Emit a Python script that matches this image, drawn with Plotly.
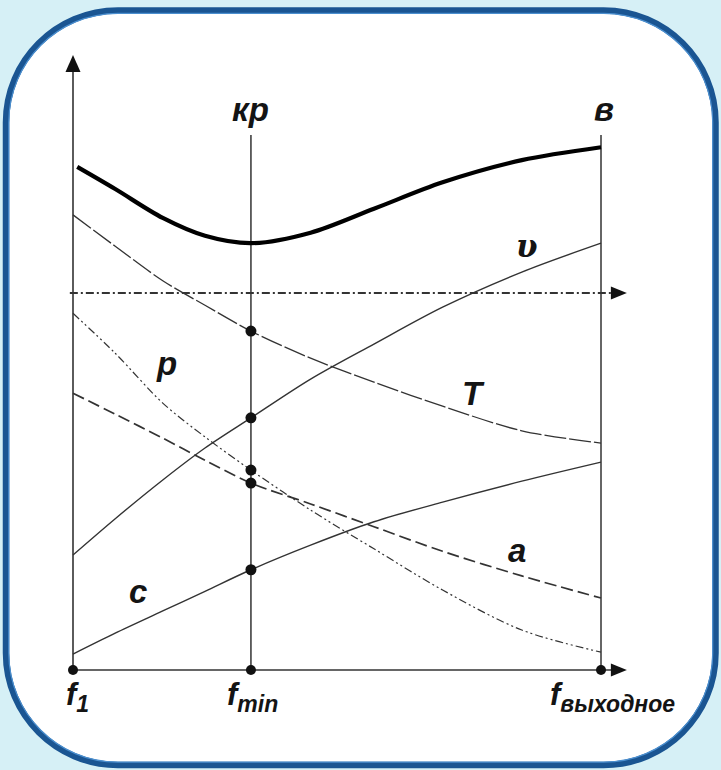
import plotly.graph_objects as go

# Frequency grid: f1 = 0, f_out = 100; levels on a 0..100 scale
F = [0, 8, 17, 25, 33.7, 45, 57, 70, 85, 100]
F_TOTAL = [0.8, 8, 17, 25, 33.7, 45, 57, 70, 85, 100]

TOTAL = [81.8, 78.2, 73.5, 70.6, 69.4, 71.1, 75.0, 79.3, 82.9, 85.0]
T_CURVE = [74.0, 68.9, 63.3, 59.3, 55.1, 50.7, 46.8, 42.9, 38.9, 36.9]
V_CURVE = [18.7, 24.6, 30.9, 36.1, 41.0, 47.3, 53.0, 59.0, 64.7, 69.4]
P_CURVE = [58.0, 51.5, 43.4, 37.9, 32.5, 26.0, 19.7, 13.0, 6.5, 2.9]
A_CURVE = [45.0, 41.6, 37.7, 34.1, 30.4, 27.0, 23.3, 19.3, 15.3, 11.7]
C_CURVE = [2.6, 6.0, 9.6, 12.8, 16.3, 20.3, 24.1, 27.3, 30.7, 33.8]

F1, FMIN, FOUT = 0, 33.7, 100
F_TICKS = [F1, FMIN, FOUT]
F_TICK_SUB = ["1", "min", "выходное"]
F_TICK_SHIFT = [4, 2, 11]
REF_LEVEL = 61.3          # dash-dot reference level
GUIDE_TOP = 87.0          # top of the кр / в verticals
AXIS_TOP = 100.0
AXIS_END = 104.9

W, H = 721, 770
X_RANGE = [-13.826, 122.727]
Y_RANGE = [-16.26, 108.94]
SX = W / (X_RANGE[1] - X_RANGE[0])   # px per x unit
SY = H / (Y_RANGE[1] - Y_RANGE[0])   # px per y unit

INK = "#141414"
LINE = "#333333"
FONT = "Liberation Sans, Arial, sans-serif"
SERIF = "DejaVu Serif, Liberation Serif, serif"

fig = go.Figure()


def curve(xs, ys, width, dash="solid", color=LINE):
    fig.add_trace(go.Scatter(
        x=xs, y=ys, mode="lines", line=dict(color=color, width=width, dash=dash,
                                            shape="spline", smoothing=0.9),
        hoverinfo="skip", showlegend=False))


# axes and guides
fig.add_trace(go.Scatter(x=[F1, F1], y=[0, AXIS_TOP - 15 / SY], mode="lines",
                         line=dict(color=LINE, width=1.6), hoverinfo="skip", showlegend=False))
fig.add_trace(go.Scatter(x=[F1, AXIS_END - 14 / SX], y=[0, 0], mode="lines",
                         line=dict(color=LINE, width=1.6), hoverinfo="skip", showlegend=False))
for fx in (FMIN, FOUT):
    fig.add_trace(go.Scatter(x=[fx, fx], y=[0, GUIDE_TOP], mode="lines",
                             line=dict(color=LINE, width=1.5), hoverinfo="skip", showlegend=False))
fig.add_trace(go.Scatter(x=[F1 - 0.6, AXIS_END - 14 / SX], y=[REF_LEVEL, REF_LEVEL], mode="lines",
                         line=dict(color=LINE, width=1.8, dash="8px,3px,2px,3px"),
                         hoverinfo="skip", showlegend=False))

# curves
curve(F, T_CURVE, 1.3, "22px,3px")
curve(F, V_CURVE, 1.4)
curve(F, P_CURVE, 1.2, "8px,3px,2px,3px,2px,3px")
curve(F, A_CURVE, 1.7, "12px,5px")
curve(F, C_CURVE, 1.4)
curve(F_TOTAL, TOTAL, 4.2, color="#000000")

# points where the curves meet the кр line
i_min = F.index(FMIN)
fig.add_trace(go.Scatter(
    x=[FMIN] * 5,
    y=[T_CURVE[i_min], V_CURVE[i_min], P_CURVE[i_min], A_CURVE[i_min], C_CURVE[i_min]],
    mode="markers", marker=dict(color="#111111", size=11), hoverinfo="skip", showlegend=False))
fig.add_trace(go.Scatter(x=F_TICKS, y=[0] * 3, mode="markers",
                         marker=dict(color="#111111", size=10), hoverinfo="skip", showlegend=False))

shapes = []


def arrow_up(x, y, length=17, half=7.5):
    return dict(type="path", xref="x", yref="y", fillcolor="#111111", line=dict(width=0),
                path=f"M {x},{y} L {x - half / SX},{y - length / SY} "
                     f"L {x + half / SX},{y - length / SY} Z")


def arrow_right(x, y, length=16, half=6.5):
    return dict(type="path", xref="x", yref="y", fillcolor="#111111", line=dict(width=0),
                path=f"M {x},{y} L {x - length / SX},{y + half / SY} "
                     f"L {x - length / SX},{y - half / SY} Z")


shapes += [arrow_up(F1, AXIS_TOP), arrow_right(AXIS_END, 0), arrow_right(AXIS_END, REF_LEVEL)]


def rounded_rect(l, t, r, b, rad):
    k = 0.5523 * rad
    px = lambda v: v / W
    py = lambda v: 1 - v / H
    pts = [
        f"M {px(l + rad)},{py(t)}",
        f"L {px(r - rad)},{py(t)}",
        f"C {px(r - rad + k)},{py(t)} {px(r)},{py(t + rad - k)} {px(r)},{py(t + rad)}",
        f"L {px(r)},{py(b - rad)}",
        f"C {px(r)},{py(b - rad + k)} {px(r - rad + k)},{py(b)} {px(r - rad)},{py(b)}",
        f"L {px(l + rad)},{py(b)}",
        f"C {px(l + rad - k)},{py(b)} {px(l)},{py(b - rad + k)} {px(l)},{py(b - rad)}",
        f"L {px(l)},{py(t + rad)}",
        f"C {px(l)},{py(t + rad - k)} {px(l + rad - k)},{py(t)} {px(l + rad)},{py(t)}",
        "Z",
    ]
    return " ".join(pts)


shapes.insert(0, dict(type="path", xref="paper", yref="paper", layer="below",
                      path=rounded_rect(6, 10.5, 715.5, 765, 112),
                      fillcolor="#ffffff", line=dict(color="#1a5592", width=6.5)))
shapes.insert(1, dict(type="path", xref="paper", yref="paper", layer="below",
                      path=rounded_rect(8.8, 13.3, 712.7, 762.2, 109),
                      fillcolor="rgba(0,0,0,0)", line=dict(color="#4b8fcf", width=1.2)))

annotations = []


def label(x, y, text, size=33, xshift=0, yshift=0, family=FONT):
    annotations.append(dict(x=x, y=y, xref="x", yref="y", text=text, showarrow=False,
                            font=dict(family=family, size=size, color=INK,
                                      weight="bold", style="italic"),
                            xanchor="center", yanchor="middle",
                            xshift=xshift, yshift=yshift))


label(FMIN, GUIDE_TOP, "кр", yshift=25)
label(FOUT, GUIDE_TOP, "в", yshift=25, xshift=3)
label(86.0, 69.0, "υ", size=31, family=SERIF)
label(75.9, 45.0, "T")
label(17.8, 49.9, "p")
label(84.1, 19.5, "a")
label(12.3, 12.8, "c")
for fx, sub, dx in zip(F_TICKS, F_TICK_SUB, F_TICK_SHIFT):
    txt = f"f<sub><span style='font-size:23px'>{sub}</span></sub>"
    label(fx, 0, txt, size=31, xshift=dx, yshift=-27)

fig.update_layout(
    width=W, height=H, autosize=False,
    margin=dict(l=0, r=0, t=0, b=0, pad=0),
    paper_bgcolor="#d6f0f6", plot_bgcolor="rgba(0,0,0,0)",
    xaxis=dict(range=X_RANGE, visible=False, fixedrange=True),
    yaxis=dict(range=Y_RANGE, visible=False, fixedrange=True),
    shapes=shapes, annotations=annotations, showlegend=False,
)

fig.write_html("out.html", config={"displayModeBar": False})
